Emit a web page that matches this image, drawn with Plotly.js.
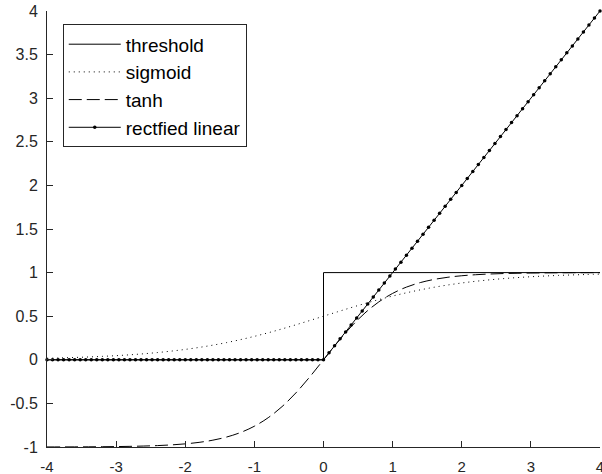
<!DOCTYPE html>
<html>
<head>
<meta charset="utf-8">
<script src="https://cdn.plot.ly/plotly-3.0.1.min.js"></script>
<style>html,body{margin:0;padding:0;background:#fff;}#chart{width:602px;height:474px;}</style>
</head>
<body>
<div id="chart"></div>
<script>
// Threshold (step) function
var thresholdX = [-4, 0, 0, 4];
var thresholdY = [0, 0, 1, 1];

// Smooth curves sampled every 0.2
var curveX = [-4,-3.8,-3.6,-3.4,-3.2,-3,-2.8,-2.6,-2.4,-2.2,-2,-1.8,-1.6,-1.4,-1.2,-1,-0.8,-0.6,-0.4,-0.2,
  0,0.2,0.4,0.6,0.8,1,1.2,1.4,1.6,1.8,2,2.2,2.4,2.6,2.8,3,3.2,3.4,3.6,3.8,4];
var sigmoidY = [0.0180,0.0219,0.0266,0.0323,0.0392,0.0474,0.0573,0.0691,0.0832,0.0998,0.1192,0.1419,0.1680,0.1978,0.2315,0.2689,0.3100,0.3543,0.4013,0.4502,
  0.5,0.5498,0.5987,0.6457,0.6900,0.7311,0.7685,0.8022,0.8320,0.8581,0.8808,0.9002,0.9168,0.9309,0.9427,0.9526,0.9608,0.9677,0.9734,0.9781,0.9820];
var tanhY = [-0.9993,-0.9990,-0.9985,-0.9978,-0.9967,-0.9951,-0.9926,-0.9890,-0.9837,-0.9757,-0.9640,-0.9468,-0.9217,-0.8854,-0.8337,-0.7616,-0.6640,-0.5370,-0.3799,-0.1974,
  0,0.1974,0.3799,0.5370,0.6640,0.7616,0.8337,0.8854,0.9217,0.9468,0.9640,0.9757,0.9837,0.9890,0.9926,0.9951,0.9967,0.9978,0.9985,0.9990,0.9993];

// Rectified linear, sampled every 0.08 (marked points)
var reluX = [-4,-3.92,-3.84,-3.76,-3.68,-3.6,-3.52,-3.44,-3.36,-3.28,-3.2,-3.12,-3.04,-2.96,-2.88,-2.8,-2.72,-2.64,-2.56,-2.48,
  -2.4,-2.32,-2.24,-2.16,-2.08,-2,-1.92,-1.84,-1.76,-1.68,-1.6,-1.52,-1.44,-1.36,-1.28,-1.2,-1.12,-1.04,-0.96,-0.88,
  -0.8,-0.72,-0.64,-0.56,-0.48,-0.4,-0.32,-0.24,-0.16,-0.08,
  0,0.08,0.16,0.24,0.32,0.4,0.48,0.56,0.64,0.72,0.8,0.88,0.96,1.04,1.12,1.2,1.28,1.36,1.44,1.52,
  1.6,1.68,1.76,1.84,1.92,2,2.08,2.16,2.24,2.32,2.4,2.48,2.56,2.64,2.72,2.8,2.88,2.96,3.04,3.12,
  3.2,3.28,3.36,3.44,3.52,3.6,3.68,3.76,3.84,3.92,4];
var reluY = [0,0,0,0,0,0,0,0,0,0,0,0,0,0,0,0,0,0,0,0,
  0,0,0,0,0,0,0,0,0,0,0,0,0,0,0,0,0,0,0,0,
  0,0,0,0,0,0,0,0,0,0,
  0,0.08,0.16,0.24,0.32,0.4,0.48,0.56,0.64,0.72,0.8,0.88,0.96,1.04,1.12,1.2,1.28,1.36,1.44,1.52,
  1.6,1.68,1.76,1.84,1.92,2,2.08,2.16,2.24,2.32,2.4,2.48,2.56,2.64,2.72,2.8,2.88,2.96,3.04,3.12,
  3.2,3.28,3.36,3.44,3.52,3.6,3.68,3.76,3.84,3.92,4];

var names = ['threshold', 'sigmoid', 'tanh', 'rectfied linear'];
var xTicks = [-4,-3,-2,-1,0,1,2,3,4];
var yTicks = [-1,-0.5,0,0.5,1,1.5,2,2.5,3,3.5,4];

var FONT = 'Liberation Sans, Arial, Helvetica, sans-serif';
var AX = '#262626';

var traces = [
  {x: thresholdX, y: thresholdY, name: names[0], mode: 'lines', line: {color: '#000', width: 1}},
  {x: curveX, y: sigmoidY, name: names[1], mode: 'lines', line: {color: '#000', width: 1, dash: '1px,4px', shape: 'spline'}},
  {x: curveX, y: tanhY, name: names[2], mode: 'lines', line: {color: '#000', width: 1, dash: '13px,5px', shape: 'spline'}},
  {x: reluX, y: reluY, name: names[3], mode: 'lines+markers', line: {color: '#000', width: 1},
   marker: {color: '#000', size: 3.5}, cliponaxis: false}
];

var layout = {
  width: 602, height: 474,
  margin: {l: 46.5, r: 2, t: 10.7, b: 27.3},
  paper_bgcolor: '#fff', plot_bgcolor: '#fff',
  font: {family: FONT, size: 16, color: AX},
  showlegend: true,
  legend: {x: 0.0285, y: 0.9694, xanchor: 'left', yanchor: 'top',
    bgcolor: '#fff', bordercolor: AX, borderwidth: 1,
    font: {family: FONT, size: 19, color: '#000'}, itemwidth: 52,
    tracegroupgap: 0},
  xaxis: {range: [-4, 4], tickvals: xTicks, ticktext: xTicks.map(String),
    ticks: 'inside', ticklen: 6, tickwidth: 1, tickcolor: AX,
    ticklabelstandoff: 6, ticklabeloverflow: 'allow',
    showline: true, linecolor: AX, linewidth: 1, mirror: false,
    showgrid: false, zeroline: false, tickfont: {size: 15, color: AX}},
  yaxis: {range: [-1, 4], tickvals: yTicks, ticktext: yTicks.map(String),
    ticks: 'inside', ticklen: 6, tickwidth: 1, tickcolor: AX,
    ticklabelstandoff: 5, ticklabeloverflow: 'allow',
    showline: true, linecolor: AX, linewidth: 1, mirror: false,
    showgrid: false, zeroline: false, tickfont: {size: 16, color: AX}}
};

Plotly.newPlot('chart', traces, layout, {displayModeBar: false, staticPlot: true});
</script>
</body>
</html>
